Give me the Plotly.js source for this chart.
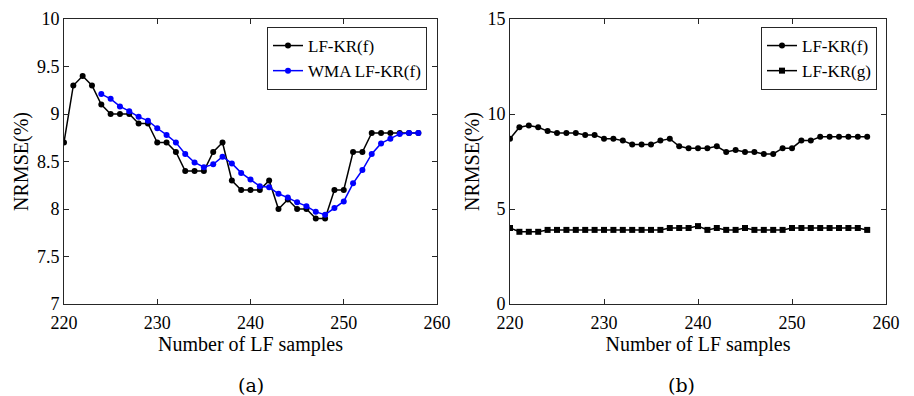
<!DOCTYPE html>
<html>
<head>
<meta charset="utf-8">
<script src="https://cdn.plot.ly/plotly-3.0.1.min.js"></script>
<style>html,body{margin:0;padding:0;background:#fff;}#chart{width:914px;height:396px;}</style>
</head>
<body>
<div id="chart"></div>
<script>
// Data
const samples = [220,221,222,223,224,225,226,227,228,229,230,231,232,233,234,235,236,237,238,239,240,241,242,243,244,245,246,247,248,249,250,251,252,253,254,255,256,257,258];
const lfkrF = [8.7,9.3,9.4,9.3,9.1,9.0,9.0,9.0,8.9,8.9,8.7,8.7,8.6,8.4,8.4,8.4,8.6,8.7,8.3,8.2,8.2,8.2,8.3,8.0,8.1,8.0,8.0,7.9,7.9,8.2,8.2,8.6,8.6,8.8,8.8,8.8,8.8,8.8,8.8];
const wmaSamples = [224,225,226,227,228,229,230,231,232,233,234,235,236,237,238,239,240,241,242,243,244,245,246,247,248,249,250,251,252,253,254,255,256,257,258];
const wmaF = [9.21,9.16,9.08,9.03,8.97,8.93,8.85,8.78,8.70,8.58,8.49,8.44,8.47,8.55,8.48,8.38,8.31,8.24,8.23,8.16,8.12,8.07,8.03,7.97,7.94,8.01,8.08,8.27,8.41,8.58,8.69,8.74,8.79,8.80,8.80];
const lfkrG = [4.0,3.8,3.8,3.8,3.9,3.9,3.9,3.9,3.9,3.9,3.9,3.9,3.9,3.9,3.9,3.9,3.9,4.0,4.0,4.0,4.1,3.9,4.0,3.9,3.9,4.0,3.9,3.9,3.9,3.9,4.0,4.0,4.0,4.0,4.0,4.0,4.0,4.0,3.9];
const xTicks = [220,230,240,250,260];
const yTicksA = [7,7.5,8,8.5,9,9.5,10];
const yTicksB = [0,5,10,15];

const W = 914, H = 396;
const FONT = '"Liberation Serif", "Times New Roman", serif';
const AX = '#262626';

const traces = [
  {x: samples, y: lfkrF, name: 'LF-KR(f)', xaxis: 'x', yaxis: 'y', mode: 'lines+markers',
   line: {color: '#000', width: 1.5}, marker: {symbol: 'circle', size: 6, color: '#000'}, legend: 'legend'},
  {x: wmaSamples, y: wmaF, name: 'WMA LF-KR(f)', xaxis: 'x', yaxis: 'y', mode: 'lines+markers',
   line: {color: '#0000ff', width: 1.5}, marker: {symbol: 'circle', size: 6, color: '#0000ff'}, legend: 'legend'},
  {x: samples, y: lfkrF, name: 'LF-KR(f)', xaxis: 'x2', yaxis: 'y2', mode: 'lines+markers',
   line: {color: '#000', width: 1.5}, marker: {symbol: 'circle', size: 6, color: '#000'}, legend: 'legend2'},
  {x: samples, y: lfkrG, name: 'LF-KR(g)', xaxis: 'x2', yaxis: 'y2', mode: 'lines+markers',
   line: {color: '#000', width: 1.5}, marker: {symbol: 'square', size: 6, color: '#000'}, legend: 'legend2'}
];

function xax(dom, anchor) {
  return {domain: dom, anchor: anchor, range: [220, 260], tickvals: xTicks, ticktext: xTicks.map(String),
    ticks: 'inside', ticklen: 5, tickcolor: AX, mirror: 'ticks', showline: true, linecolor: AX, linewidth: 1,
    showgrid: false, zeroline: false, automargin: false, ticklabelstandoff: 2,
    tickfont: {family: FONT, size: 18, color: '#000'},
    title: {text: 'Number of LF samples', font: {family: FONT, size: 20, color: '#000'}, standoff: 2}};
}
function yax(dom, anchor, rng, ticks) {
  return {domain: dom, anchor: anchor, range: rng, tickvals: ticks, ticktext: ticks.map(String),
    ticks: 'inside', ticklen: 5, tickcolor: AX, mirror: 'ticks', showline: true, linecolor: AX, linewidth: 1,
    showgrid: false, zeroline: false, automargin: false,
    tickfont: {family: FONT, size: 18, color: '#000'},
    title: {text: 'NRMSE(%)', font: {family: FONT, size: 20, color: '#000'}, standoff: 2}};
}
const yDom = [(H - 304) / H, (H - 19) / H];

const layout = {
  width: W, height: H,
  margin: {l: 0, r: 0, t: 0, b: 0},
  paper_bgcolor: '#fff', plot_bgcolor: '#fff',
  font: {family: FONT, color: '#000'},
  showlegend: true,
  xaxis: xax([64 / W, 437 / W], 'y'),
  yaxis: yax(yDom, 'x', [7, 10], yTicksA),
  xaxis2: xax([510 / W, 886 / W], 'y2'),
  yaxis2: yax(yDom, 'x2', [0, 15], yTicksB),
  legend: {x: 427 / W, y: (H - 27) / H, xanchor: 'right', yanchor: 'top', bgcolor: '#fff',
    bordercolor: AX, borderwidth: 1, font: {family: FONT, size: 17, color: '#000'},
    tracegroupgap: 0, itemwidth: 30},
  legend2: {x: 877 / W, y: (H - 27) / H, xanchor: 'right', yanchor: 'top', bgcolor: '#fff',
    bordercolor: AX, borderwidth: 1, font: {family: FONT, size: 17, color: '#000'},
    tracegroupgap: 0, itemwidth: 30},
  annotations: [
    {text: '(a)', xref: 'paper', yref: 'paper', x: 236 / W, y: (H - 385) / H, yanchor: 'middle', showarrow: false,
     font: {family: '"DejaVu Serif", serif', size: 19, color: '#000'}},
    {text: '(b)', xref: 'paper', yref: 'paper', x: 697 / W, y: (H - 385) / H, yanchor: 'middle', showarrow: false,
     font: {family: '"DejaVu Serif", serif', size: 19, color: '#000'}}
  ]
};

Plotly.newPlot('chart', traces, layout, {displayModeBar: false, staticPlot: true});
</script>
</body>
</html>
